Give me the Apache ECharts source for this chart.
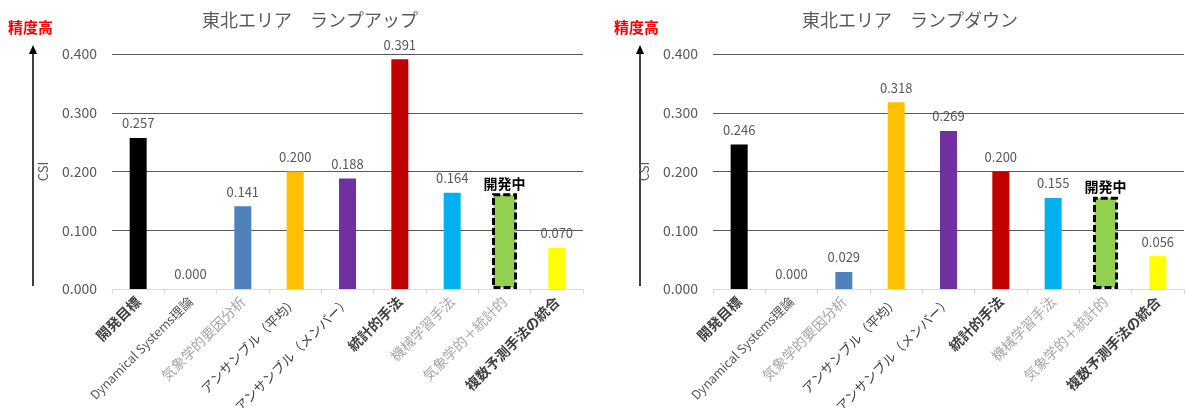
<!DOCTYPE html>
<html>
<head>
<meta charset="utf-8">
<script src="https://cdn.jsdelivr.net/npm/echarts@6/dist/echarts.min.js"></script>
<style>
  html, body { margin: 0; padding: 0; background: #fff; }
  #chart { width: 1186px; height: 408px; }
</style>
</head>
<body>
<div id="chart"></div>
<script>
// Forecast methods compared (shared by both panels)
const categories = [
  '開発目標', 'Dynamical Systems理論', '気象学的要因分析', 'アンサンブル（平均）',
  'アンサンブル（メンバー）', '統計的手法', '機械学習手法', '気象学的＋統計的', '複数予測手法の統合'
];
// Label style per category: d = dark bold, n = dark normal, k = dark katakana, l = light
const labelTone = ['d', 'n', 'l', 'k', 'k', 'd', 'l', 'l', 'd'];
const barColors = ['#000000', '#4f81bd', '#4f81bd', '#ffc000', '#7030a0', '#c00000', '#00b0f0', '#92d050', '#ffff00'];

const titles = ['東北エリア　ランプアップ', '東北エリア　ランプダウン'];
// CSI per method; index 7 (still in development) is drawn separately
const rampUp   = [0.257, 0.000, 0.141, 0.200, 0.188, 0.391, 0.164, null, 0.070];
const rampDown = [0.246, 0.000, 0.029, 0.318, 0.269, 0.200, 0.155, null, 0.056];
const devIndex = 7;
const devUp = 0.163;
const devDown = 0.157;
const yTicks = [0, 0.1, 0.2, 0.3, 0.4];

const FONT = "'Noto Sans CJK JP', 'Noto Sans', sans-serif";
const chart = echarts.init(document.getElementById('chart'));

const panels = [
  { left: 112, title: titles[0], values: rampUp, dev: devUp, titleX: 305, markX: 8, arrowX: 33 },
  { left: 713, title: titles[1], values: rampDown, dev: devDown, titleX: 905, markX: 614, arrowX: 640 }
];

const grids = [], xAxes = [], yAxes = [], series = [], titleList = [], graphics = [];

panels.forEach((p, i) => {
  grids.push({ left: p.left, top: 54, width: 471, height: 235, outerBoundsMode: 'none', containLabel: false });
  titleList.push({
    text: p.title, left: p.titleX, top: 6, textAlign: 'center',
    textStyle: { fontFamily: FONT, fontSize: 18, fontWeight: 'normal', color: '#595959' }
  });
  // visible category axis
  xAxes.push({
    type: 'category', gridIndex: i, data: categories,
    axisLine: { lineStyle: { color: '#d9d9d9' } },
    axisTick: { show: true, length: 5, lineStyle: { color: '#d9d9d9' } },
    axisLabel: {
      interval: 0, rotate: 45, margin: 10,
      formatter: (v, idx) => {
        if (labelTone[idx] === 'n') {
          return '{latin|Dynamical Systems}{n|理論}';
        }
        return '{' + labelTone[idx] + '|' + v + '}';
      },
      rich: {
        d: { fontFamily: FONT, fontSize: 14, color: '#404040', fontWeight: 'bold' },
        n: { fontFamily: FONT, fontSize: 13, color: '#595959' },
        latin: { fontFamily: FONT, fontSize: 12.5, color: '#595959' },
        k: { fontFamily: FONT, fontSize: 13, color: '#404040' },
        l: { fontFamily: FONT, fontSize: 14, color: '#a6a6a6' }
      }
    }
  });
  // hidden twin axis so the in-development bar gets its own width
  xAxes.push({ type: 'category', gridIndex: i, data: categories, show: false });
  yAxes.push({
    type: 'value', gridIndex: i, min: yTicks[0], max: yTicks[yTicks.length - 1], interval: 0.1,
    name: 'CSI', nameLocation: 'middle', nameGap: 62, nameRotate: 90,
    nameTextStyle: { fontFamily: FONT, fontSize: 13, color: '#595959' },
    axisLine: { show: false }, axisTick: { show: false },
    axisLabel: { margin: 15, fontFamily: FONT, fontSize: 14, color: '#595959', formatter: v => v.toFixed(3) },
    splitLine: { lineStyle: { color: ['#d9d9d9', '#595959', '#595959', '#595959', '#595959'], width: 1 } }
  });
  series.push({
    type: 'bar', xAxisIndex: i * 2, yAxisIndex: i, barWidth: 17,
    data: p.values.map((v, k) => ({ value: v, itemStyle: { color: barColors[k] } })),
    label: {
      show: true, position: 'top', distance: 8,
      fontFamily: FONT, fontSize: 13, color: '#595959',
      formatter: d => (d.value == null ? '' : d.value.toFixed(3))
    },
    z: 3
  });
  series.push({
    type: 'bar', xAxisIndex: i * 2 + 1, yAxisIndex: i, barWidth: 25,
    data: categories.map((c, k) => (k === devIndex ? p.dev : null)),
    itemStyle: { color: barColors[devIndex], borderColor: '#000', borderWidth: 3, borderType: [7, 3] },
    label: {
      show: true, position: 'top', distance: 3,
      fontFamily: FONT, fontSize: 14, fontWeight: 'bold', color: '#000',
      formatter: () => '開発中'
    },
    z: 3
  });
  // "higher accuracy" marker with upward arrow
  graphics.push({
    type: 'text', left: p.markX, top: 20,
    style: { text: '精度高', font: 'bold 15px ' + FONT, fill: '#ff0000' }
  });
  graphics.push({
    type: 'line', shape: { x1: p.arrowX, y1: 286, x2: p.arrowX, y2: 52 },
    style: { stroke: '#000', lineWidth: 1.5 }
  });
  graphics.push({
    type: 'polygon',
    shape: { points: [[p.arrowX, 45], [p.arrowX - 4, 54], [p.arrowX + 4, 54]] },
    style: { fill: '#000' }
  });
});

chart.setOption({
  animation: false,
  backgroundColor: '#ffffff',
  title: titleList,
  grid: grids,
  xAxis: xAxes,
  yAxis: yAxes,
  series: series,
  graphic: graphics
});
</script>
</body>
</html>
